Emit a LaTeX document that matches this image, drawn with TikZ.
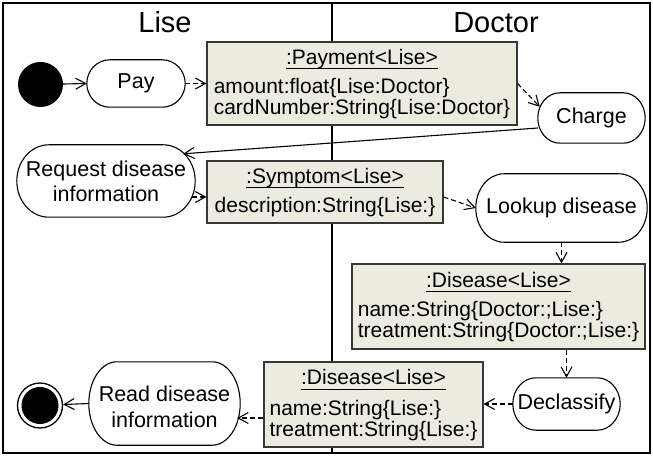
\documentclass[tikz,border=0pt]{standalone}
\usepackage{fontspec}
\setmainfont{Liberation Sans}
\usetikzlibrary{arrows.meta,calc}
\definecolor{boxfill}{RGB}{235,235,223}
\definecolor{boxline}{RGB}{55,55,55}
\newcommand\ulbox[1]{\setbox0\hbox{#1}\rlap{\rule[-5pt]{\wd0}{0.9pt}}\box0}
\newcommand\actoutline[2][20pt]{%
  \draw[actline] let \p1=(#2.north west), \p2=(#2.south east), \n1={(\y1-\y2)/2} in
  (\x1+#1,\y1) -- (\x2-#1,\y1)
  arc[start angle=90,end angle=-90,x radius=#1,y radius={\n1*1pt}]
  -- (\x1+#1,\y2)
  arc[start angle=270,end angle=90,x radius=#1,y radius={\n1*1pt}] -- cycle;}
\tikzset{
  objbox/.style={draw=boxline, fill=boxfill, line width=1.1pt, inner sep=0pt,
    font=\fontsize{21}{20}\selectfont},
  act/.style={inner sep=0pt, align=center, font=\fontsize{21.5}{25}\selectfont},
  actline/.style={line width=1.1pt, draw=black},
  lane/.style={line width=1.5pt, draw=black},
  header/.style={anchor=base, font=\fontsize{29}{32}\selectfont},
  flow/.style={line width=1.1pt, -{Straight Barb[length=10pt,width=11pt]}},
  dep/.style={flow, dash pattern=on 5pt off 3pt},
}
\begin{document}
\begin{tikzpicture}[x=1pt,y=-1pt]
\useasboundingbox (0,0) rectangle (653,457);
% swimlanes
\draw[lane] (3,3) rectangle (650,453);
\draw[lane] (332,3) -- (332,453);
\node[header] (hlise) at (165,33) {Lise};
\node[header] (hdoc) at (496,33) {Doctor};

% object boxes
\node[objbox, minimum width=310pt, minimum height=83pt] (payment) at (362,83.5)
 {\begin{tabular}{@{}l@{}}\multicolumn{1}{@{}c@{}}{\rule{0pt}{18pt}\ulbox{:Payment<Lise>}}\\[8pt]
  amount:float\{Lise:Doctor\}\\ cardNumber:String\{Lise:Doctor\}\end{tabular}};
\node[objbox, minimum width=236pt, minimum height=62pt] (sym) at (325,192)
 {\begin{tabular}{@{}l@{}}\multicolumn{1}{@{}c@{}}{\rule{0pt}{18pt}\ulbox{:Symptom<Lise>}}\\[8pt]
  description:String\{Lise:\}\end{tabular}};
\node[objbox, minimum width=293pt, minimum height=85pt] (dd) at (498.5,306.5)
 {\begin{tabular}{@{}l@{}}\multicolumn{1}{@{}c@{}}{\rule{0pt}{18pt}\ulbox{:Disease<Lise>}}\\[8pt]
  name:String\{Doctor:;Lise:\}\\ treatment:String\{Doctor:;Lise:\}\end{tabular}};
\node[objbox, minimum width=219pt, minimum height=85pt] (dl) at (373.5,404.5)
 {\begin{tabular}{@{}l@{}}\multicolumn{1}{@{}c@{}}{\rule{0pt}{18pt}\ulbox{:Disease<Lise>}}\\[9pt]
  name:String\{Lise:\}\\ treatment:String\{Lise:\}\end{tabular}};

% actions
\node[act, minimum width=98pt, minimum height=47pt] (pay) at (136,83.5) {Pay};
\node[act, minimum width=107pt, minimum height=50pt] (charge) at (591.5,118) {Charge};
\node[act, minimum width=178pt, minimum height=72pt] (req) at (106,181) {Request disease\\information};
\node[act, minimum width=171pt, minimum height=68pt] (lookup) at (561.5,208) {Lookup disease};
\node[act, minimum width=107pt, minimum height=52pt] (decl) at (566.5,404) {Declassify};
\node[act, minimum width=151pt, minimum height=83pt] (read) at (164.5,403.5)
 {\raisebox{-6pt}[\height][\depth]{\begin{tabular}{@{}c@{}}Read disease\\[1pt]information\end{tabular}}};
\actoutline[23pt]{pay}
\actoutline[22pt]{charge}
\actoutline[32pt]{req}
\actoutline[28pt]{lookup}
\actoutline[23pt]{decl}
\actoutline[28pt]{read}

% initial / final
\node[circle, fill=black, minimum size=45pt, inner sep=0pt] (init) at (40.5,84.5) {};
\node[circle, draw=black, line width=1.3pt, fill=white, minimum size=45pt, inner sep=0pt] (final) at (40,405.5) {};
\node[circle, fill=black, minimum size=37pt, inner sep=0pt] (finaldot) at (final) {};

% connectors
\coordinate (rs) at ([yshift=-5pt]sym.west);
\coordinate (dlr) at ([yshift=-13.5pt]dl.west);
\draw[flow] (init) -- (pay.west);
\draw[dep] (pay.east) -- (payment.west);
\draw[dep] (payment.east) -- ([xshift=2pt,yshift=-14pt]charge.north west);
\draw[flow] ([yshift=-10pt]charge.west) -- ([xshift=-12pt,yshift=-9pt]req.north east);
\draw[dep] ([xshift=-3pt]rs -| req.east) -- (rs);
\draw[dep] ([yshift=-5pt]sym.east) -- (lookup.west);
\draw[dep] (lookup.south) -- (lookup.south |- dd.north);
\draw[dep] (decl.north |- dd.south) -- (decl.north);
\draw[dep] (decl.west) -- (decl.west -| dl.east);
\draw[dep] (dlr) -- ([xshift=-3pt]dlr -| read.east);
\draw[flow] (read.west) -- (final);
\end{tikzpicture}
\end{document}
